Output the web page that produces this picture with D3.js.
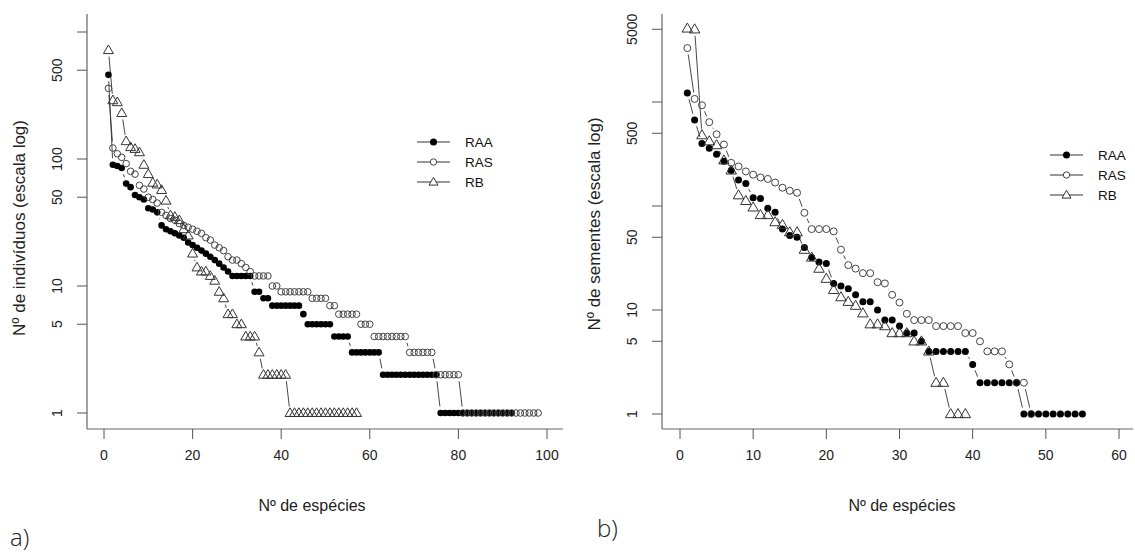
<!DOCTYPE html>
<html>
<head>
<meta charset="utf-8">
<script src="https://cdn.jsdelivr.net/npm/d3@7"></script>
<style>
  body { margin: 0; background: #fff; }
  svg { display: block; font-family: "Liberation Sans", Arial, sans-serif; }
</style>
</head>
<body>
<div id="chart"></div>
<script>
// Rank-abundance values (rank = position in array + 1)
const seriesNames = ['RAA', 'RAS', 'RB'];

// a) Nº de indivíduos
const leftRAA = [460, 90, 88, 85, 64, 60, 52, 50, 48, 41, 40, 38, 30, 28, 27, 26, 25, 24, 22, 21,
  20, 19, 18, 17, 16, 15, 14, 13, 12, 12, 12, 12, 12, 9, 9, 8, 8, 7, 7, 7,
  7, 7, 7, 7, 6, 5, 5, 5, 5, 5, 5, 4, 4, 4, 4, 3, 3, 3, 3, 3,
  3, 3, 2, 2, 2, 2, 2, 2, 2, 2, 2, 2, 2, 2, 2, 1, 1, 1, 1, 1,
  1, 1, 1, 1, 1, 1, 1, 1, 1, 1, 1, 1];
const leftRAS = [360, 122, 110, 103, 92, 80, 76, 62, 58, 50, 48, 45, 38, 36, 34, 33, 31, 30, 29, 28,
  27, 26, 24, 23, 21, 20, 19, 17, 16, 16, 15, 14, 13, 12, 12, 12, 12, 10, 10, 9,
  9, 9, 9, 9, 9, 9, 8, 8, 8, 8, 7, 7, 6, 6, 6, 6, 6, 5, 5, 5,
  4, 4, 4, 4, 4, 4, 4, 4, 3, 3, 3, 3, 3, 3, 2, 2, 2, 2, 2, 2,
  1, 1, 1, 1, 1, 1, 1, 1, 1, 1, 1, 1, 1, 1, 1, 1, 1, 1];
const leftRB = [720, 290, 280, 230, 138, 124, 120, 113, 90, 76, 65, 63, 57, 47, 36, 35, 33, 28, 25, 18,
  14, 13, 13, 12, 11, 9, 8, 6, 6, 5, 5, 4, 4, 4, 3, 2, 2, 2, 2, 2,
  2, 1, 1, 1, 1, 1, 1, 1, 1, 1, 1, 1, 1, 1, 1, 1, 1];

// b) Nº de sementes
const rightRAA = [1220, 670, 400, 360, 315, 270, 220, 178, 165, 120, 118, 95, 87, 60, 52, 50, 40, 32, 29, 28,
  18, 17, 16, 14, 12, 12, 10, 8, 8, 7, 6, 6, 5, 4, 4, 4, 4, 4, 4, 3,
  2, 2, 2, 2, 2, 2, 1, 1, 1, 1, 1, 1, 1, 1, 1];
const rightRAS = [3300, 1070, 930, 640, 490, 390, 260, 240, 215, 200, 188, 182, 168, 150, 140, 134, 86, 60, 60, 60,
  57, 38, 27, 25, 22.6, 22.6, 18.5, 18, 14, 11.8, 9.2, 8, 8, 8, 7, 7, 7, 7, 6, 6,
  5, 4, 4, 4, 3, 2, 2, 1];
const rightRB = [5100, 5000, 480, 420, 385, 275, 220, 127, 112, 97, 82, 82, 70, 66, 56, 56, 38, 32, 25, 20,
  15.6, 13.3, 12, 11, 9.3, 7.3, 7.3, 7, 6, 6, 6, 5, 5, 4, 2, 2, 1, 1, 1];

// Axis ticks
const leftXTicks = [0, 20, 40, 60, 80, 100];
const leftYTicks = [1, 5, 10, 50, 100, 500, 1000];
const leftYLabels = ['1', '5', '10', '50', '100', '500', ''];
const rightXTicks = [0, 10, 20, 30, 40, 50, 60];
const rightYTicks = [1, 5, 10, 50, 100, 500, 1000, 5000];
const rightYLabels = ['1', '5', '10', '50', '', '500', '', '5000'];

const width = 1135, height = 554;
const GAP = 6.5;

const svg = d3.select('#chart').append('svg')
  .attr('width', width)
  .attr('height', height);

svg.append('rect').attr('width', width).attr('height', height).attr('fill', '#fff');

function trianglePath(s) {
  const h = s * Math.sqrt(3) / 2;
  return `M0,${-h * 0.6} L${s / 2},${h * 0.4} L${-s / 2},${h * 0.4} Z`;
}

function drawMarker(g, kind, x, y, r, tri) {
  if (kind === 'RAA') {
    g.append('circle').attr('cx', x).attr('cy', y).attr('r', r).attr('fill', '#000');
  } else if (kind === 'RAS') {
    g.append('circle').attr('cx', x).attr('cy', y).attr('r', r)
      .attr('fill', 'none').attr('stroke', '#444').attr('stroke-width', 1);
  } else {
    g.append('path').attr('d', trianglePath(tri))
      .attr('transform', `translate(${x},${y})`)
      .attr('fill', 'none').attr('stroke', '#333').attr('stroke-width', 1);
  }
}

function drawPanel(p) {
  const g = svg.append('g');
  const x = d3.scaleLinear().domain(p.xDomain).range(p.xRange);
  const y = d3.scaleLog().domain([1, 1000]).range(p.yRange);

  // frame (left + bottom)
  g.append('line').attr('x1', p.box[0]).attr('x2', p.box[0]).attr('y1', p.box[1]).attr('y2', p.box[3])
    .attr('stroke', '#666').attr('stroke-width', 1.2);
  g.append('line').attr('x1', p.box[0]).attr('x2', p.box[2]).attr('y1', p.box[3]).attr('y2', p.box[3])
    .attr('stroke', '#666').attr('stroke-width', 1.2);

  // x axis ticks
  p.xTicks.forEach(t => {
    g.append('line').attr('x1', x(t)).attr('x2', x(t)).attr('y1', p.box[3]).attr('y2', p.box[3] + 10)
      .attr('stroke', '#555').attr('stroke-width', 1);
    g.append('text').attr('x', x(t)).attr('y', p.box[3] + 31)
      .attr('text-anchor', 'middle').attr('font-size', 14).attr('fill', '#222').text(t);
  });

  // y axis ticks
  p.yTicks.forEach((t, i) => {
    g.append('line').attr('x1', p.box[0] - 10).attr('x2', p.box[0]).attr('y1', y(t)).attr('y2', y(t))
      .attr('stroke', '#555').attr('stroke-width', 1);
    if (p.yLabels[i]) {
      g.append('text')
        .attr('transform', `translate(${p.box[0] - 30},${y(t)}) rotate(-90)`)
        .attr('text-anchor', 'middle').attr('dominant-baseline', 'central')
        .attr('font-size', 14).attr('fill', '#222').text(p.yLabels[i]);
    }
  });

  // axis titles
  g.append('text').attr('x', p.xTitleX).attr('y', 511)
    .attr('text-anchor', 'middle').attr('font-size', 16).attr('fill', '#222').text('Nº de espécies');
  g.append('text')
    .attr('transform', `translate(${p.box[0] - 68},${p.yTitleY}) rotate(-90)`)
    .attr('text-anchor', 'middle').attr('dominant-baseline', 'central')
    .attr('font-size', 17).attr('fill', '#222').text(p.yTitle);

  // series: lines with gaps around points (type = "b"), then points
  p.series.forEach(s => {
    const pts = s.values.map((v, i) => [x(i + 1), y(v)]);
    const lg = g.append('g');
    for (let i = 1; i < pts.length; i++) {
      const [x1, y1] = pts[i - 1], [x2, y2] = pts[i];
      const dx = x2 - x1, dy = y2 - y1, len = Math.hypot(dx, dy);
      if (len <= 2 * GAP) continue;
      const ux = dx / len, uy = dy / len;
      lg.append('line')
        .attr('x1', x1 + ux * GAP).attr('y1', y1 + uy * GAP)
        .attr('x2', x2 - ux * GAP).attr('y2', y2 - uy * GAP)
        .attr('stroke', '#333').attr('stroke-width', 0.9);
    }
  });
  p.series.forEach(s => {
    const mg = g.append('g');
    s.values.forEach((v, i) => drawMarker(mg, s.name, x(i + 1), y(v), p.r, p.tri));
  });

  // legend
  seriesNames.forEach((name, i) => {
    const ly = p.legend.y + i * 20;
    g.append('line').attr('x1', p.legend.x).attr('x2', p.legend.x + 33).attr('y1', ly).attr('y2', ly)
      .attr('stroke', '#333').attr('stroke-width', 1);
    const lgm = g.append('g');
    if (name === 'RAA') {
      lgm.append('circle').attr('cx', p.legend.x + 16.5).attr('cy', ly).attr('r', 3.5).attr('fill', '#000');
    } else if (name === 'RAS') {
      lgm.append('circle').attr('cx', p.legend.x + 16.5).attr('cy', ly).attr('r', 3.2)
        .attr('fill', '#fff').attr('stroke', '#444');
    } else {
      lgm.append('path').attr('d', trianglePath(9)).attr('transform', `translate(${p.legend.x + 16.5},${ly})`)
        .attr('fill', '#fff').attr('stroke', '#333');
    }
    g.append('text').attr('x', p.legend.x + 48).attr('y', ly).attr('dominant-baseline', 'central')
      .attr('font-size', 13.5).attr('fill', '#111').text(name);
  });
}

drawPanel({
  xDomain: [0, 100], xRange: [104, 547],
  yRange: [413, 32],
  box: [87, 14, 563, 429],
  xTicks: leftXTicks, yTicks: leftYTicks, yLabels: leftYLabels,
  xTitleX: 312, yTitleY: 228, yTitle: 'Nº de indivíduos (escala log)',
  r: 3.3, tri: 10,
  legend: { x: 417, y: 142 },
  series: [
    { name: 'RAA', values: leftRAA },
    { name: 'RAS', values: leftRAS },
    { name: 'RB', values: leftRB }
  ]
});

drawPanel({
  xDomain: [0, 60], xRange: [680, 1119],
  yRange: [414, 102],
  box: [662, 14, 1133, 429],
  xTicks: rightXTicks, yTicks: rightYTicks, yLabels: rightYLabels,
  xTitleX: 902, yTitleY: 224, yTitle: 'Nº de sementes (escala log)',
  r: 3.5, tri: 10.5,
  legend: { x: 1050, y: 155 },
  series: [
    { name: 'RAA', values: rightRAA },
    { name: 'RAS', values: rightRAS },
    { name: 'RB', values: rightRB }
  ]
});

// panel letters
svg.append('text').attr('x', 10).attr('y', 546).attr('font-family', '"Open Sans", "Noto Sans", sans-serif')
  .attr('font-weight', 300).attr('font-size', 24).attr('fill', '#222').text('a)');
svg.append('text').attr('x', 597).attr('y', 537).attr('font-family', '"Open Sans", "Noto Sans", sans-serif')
  .attr('font-weight', 300).attr('font-size', 24).attr('fill', '#222').text('b)');
</script>
</body>
</html>
